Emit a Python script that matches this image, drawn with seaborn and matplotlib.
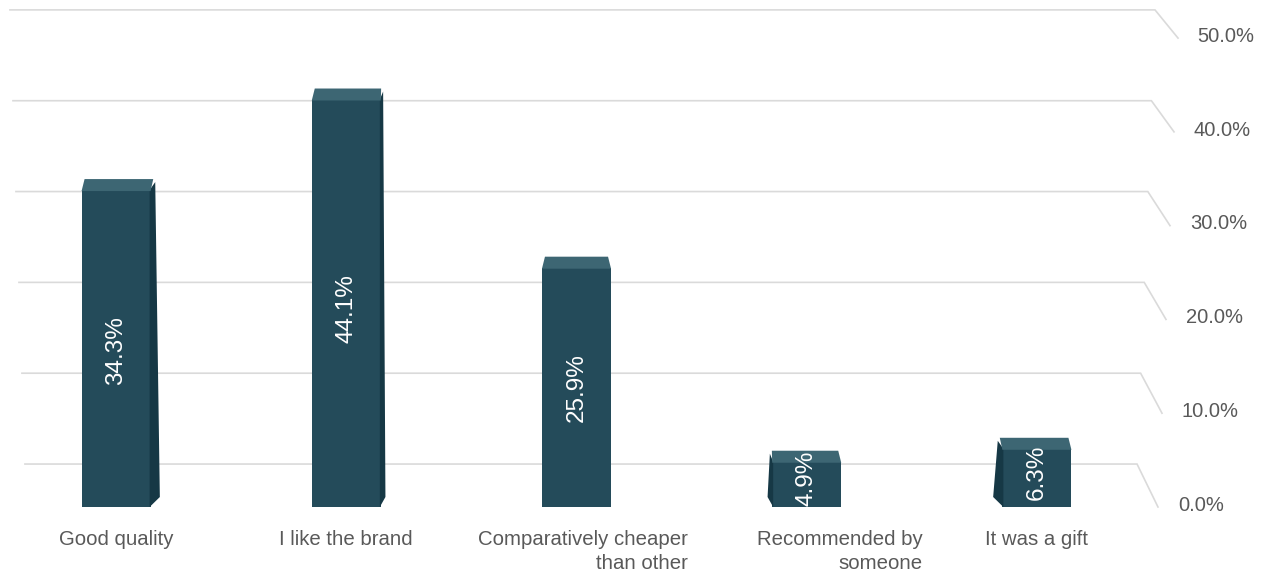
import numpy as np
import pandas as pd
import matplotlib
matplotlib.use("Agg")
import matplotlib.pyplot as plt
import seaborn as sns
from matplotlib.patches import Polygon
from matplotlib.transforms import IdentityTransform, offset_copy

# ---- data ----
categories = ["Good quality", "I like the brand", "Comparatively cheaper\nthan other",
              "Recommended by\nsomeone", "It was a gift"]
values = [34.3, 44.1, 25.9, 4.9, 6.3]
value_labels = ["34.3%", "44.1%", "25.9%", "4.9%", "6.3%"]
tick_values = [0, 10, 20, 30, 40, 50]
tick_labels = ["0.0%", "10.0%", "20.0%", "30.0%", "40.0%", "50.0%"]

plt.rcParams["font.family"] = ["Liberation Sans", "DejaVu Sans"]

FRONT = "#244b5a"
TOP = "#3d6673"
SIDE = "#163845"
GRID = "#dadada"
TEXT = "#595959"

W, H = 1269, 572
fig = plt.figure(figsize=(W / 100, H / 100), dpi=100)
ax = fig.add_axes([1 / W, 65 / H, 1151 / W, 462 / H])

df = pd.DataFrame({"cat": categories, "val": values})
sns.barplot(data=df, x="cat", y="val", color=FRONT, width=0.30, saturation=1,
            ax=ax, zorder=3, linewidth=0)
ax.set_xlim(-0.5, len(categories) - 0.5)
ax.set_ylim(0, 50)
ax.axis("off")

# ---- back wall gridlines with perspective side connector ----
for v, lab in zip(tick_values, tick_labels):
    yb = 4.65 + 0.983 * v
    xs = -0.396 - 0.0013 * v
    xe = 4.435 + 0.00156 * v
    xd = 4.526 + 0.00174 * v
    yd = v * 1.015
    ax.plot([xs, xe, xd], [yb, yb, yd], color=GRID, lw=1.2, clip_on=False, zorder=1,
            solid_joinstyle="miter")
    ax.text(4.613 + 0.0017 * v, v * 1.015 + 0.2, lab,
            ha="left", va="center", fontsize=14.5, color=TEXT, clip_on=False)

# ---- 3D faces for the bars ----
mid = ax.transData.transform((2, 0))[0]
ident = IdentityTransform()
for i, p in enumerate(ax.patches):
    x0, w, h = p.get_x(), p.get_width(), p.get_height()
    L, B = ax.transData.transform((x0, 0))
    R, T = ax.transData.transform((x0 + w, h))
    c = (L + R) / 2
    sw = (mid - c) * 0.02
    if sw > 0.5:
        side = [(R - 1, T), (R + 0.5 * sw, T + 8), (R + sw, B + 10), (R - 1, B)]
        top = [(L, T - 1), (R, T - 1), (R + 0.5 * sw - 2, T + 11), (L + 3, T + 11)]
    elif sw < -0.5:
        side = [(L + 1, T), (L + 0.5 * sw, T + 8), (L + sw, B + 10), (L + 1, B)]
        top = [(L, T - 1), (R, T - 1), (R - 3, T + 11), (L + 0.5 * sw + 2, T + 11)]
    else:
        side = None
        top = [(L, T - 1), (R, T - 1), (R - 3, T + 11), (L + 3, T + 11)]
    if side is not None:
        ax.add_artist(Polygon(side, closed=True, transform=ident, facecolor=SIDE,
                              edgecolor="none", zorder=4, clip_on=False))
    ax.add_artist(Polygon(top, closed=True, transform=ident, facecolor=TOP,
                          edgecolor="none", zorder=4, clip_on=False))
    ax.text(i, 0.47 * h + 0.8, value_labels[i], rotation=90, ha="center", va="center",
            color="white", fontsize=17.5, zorder=6)

# ---- category labels ----
label_dx = [0, 0, 6, 33, 0]
for i, cat in enumerate(categories):
    tr = offset_copy(ax.transData, fig=fig, x=label_dx[i], y=-23, units="dots")
    ax.text(i, 0, cat, transform=tr, ha="center", va="top", multialignment="right",
            fontsize=14.7, color=TEXT, linespacing=1.32, clip_on=False)

fig.savefig("out.png", dpi=100)
